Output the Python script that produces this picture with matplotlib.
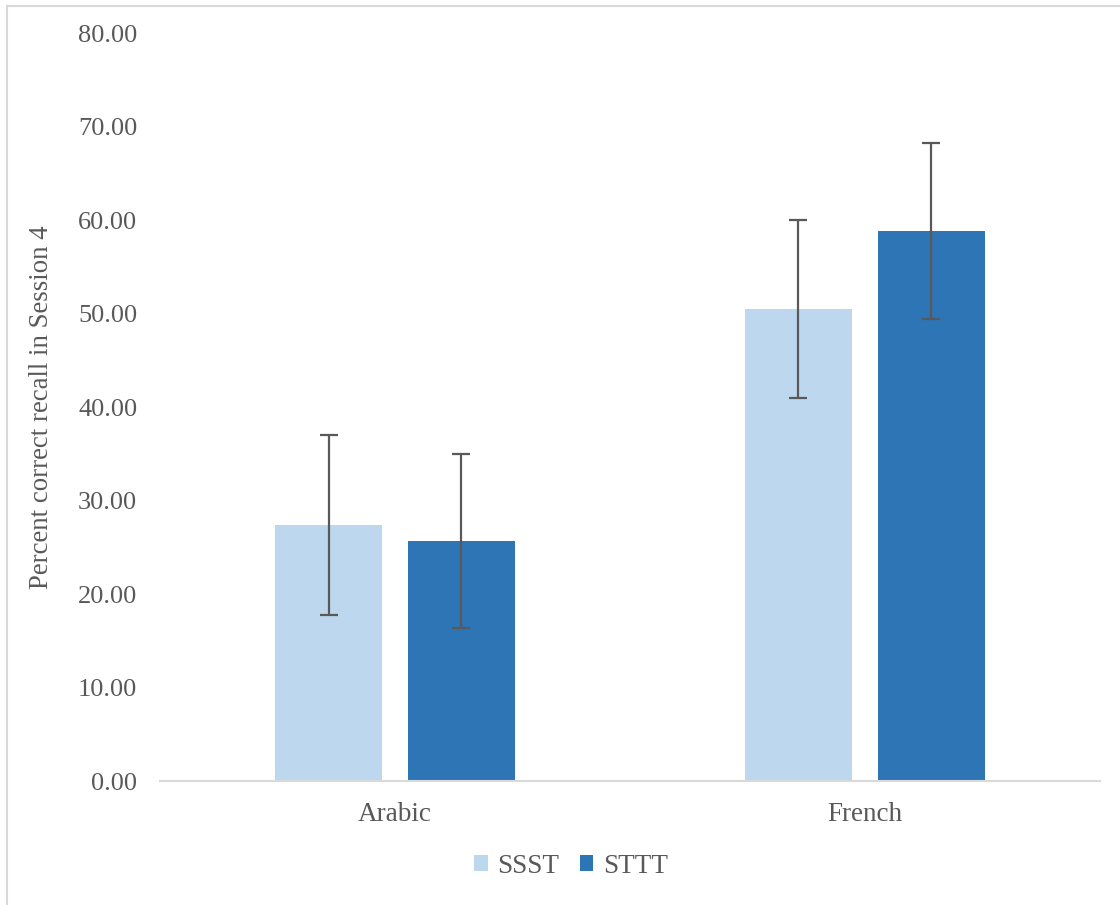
import numpy as np
import matplotlib.pyplot as plt
from matplotlib.lines import Line2D

plt.rcParams['font.family'] = ['Liberation Serif', 'DejaVu Serif']

categories = ['Arabic', 'French']
ssst = [27.43, 50.53]
ssst_err = [9.6, 9.56]
sttt = [25.72, 58.88]
sttt_err = [9.3, 9.4]

light = '#BDD7EE'
dark = '#2E75B6'
text_col = '#595959'

fig = plt.figure(figsize=(11.2, 9.05), dpi=100)
ax = fig.add_axes([0.1429, 0.1365, 0.8391, 0.8265])

x = np.arange(len(categories))
w = 0.228
off = 0.1415
err_kw = dict(ecolor='#595959', elinewidth=1.6, capsize=6.5, capthick=1.6)
ax.bar(x - off, ssst, w, color=light, label='SSST', yerr=ssst_err, error_kw=err_kw, zorder=2)
ax.bar(x + off, sttt, w, color=dark, label='STTT', yerr=sttt_err, error_kw=err_kw, zorder=2)

ax.set_xlim(-0.5, 1.5)
ax.set_ylim(0, 80)
ax.set_yticks(np.arange(0, 81, 10))
ax.set_yticklabels([f'{v:.2f}' for v in np.arange(0, 81, 10)])
ax.set_xticks(x)
ax.set_xticklabels(categories)
ax.tick_params(axis='y', length=0, pad=16.5, labelsize=19, labelcolor=text_col)
ax.tick_params(axis='x', length=0, pad=15, labelsize=19.5, labelcolor=text_col)

for s in ['top', 'right', 'left']:
    ax.spines[s].set_visible(False)
ax.spines['bottom'].set_color('#D9D9D9')
ax.spines['bottom'].set_linewidth(1.5)

fig.text(42 / 1120, 1 - 407 / 905, 'Percent correct recall in Session 4',
         rotation=90, ha='center', va='center', fontsize=19.3, color=text_col)

leg = fig.legend(loc='center', bbox_to_anchor=(571 / 1120, 1 - 866 / 905), ncol=2,
                 frameon=False, fontsize=19.5, handlelength=0.5, handleheight=0.5,
                 handletextpad=0.35, columnspacing=0.75, labelcolor=text_col)

# outer chart frame (left and top edges visible)
fig.add_artist(Line2D([7 / 1120, 7 / 1120], [0, 1 - 6 / 905], color='#D9D9D9', lw=1.5))
fig.add_artist(Line2D([7 / 1120, 1], [1 - 6 / 905, 1 - 6 / 905], color='#D9D9D9', lw=1.5))

fig.savefig('out.png', dpi=100)
